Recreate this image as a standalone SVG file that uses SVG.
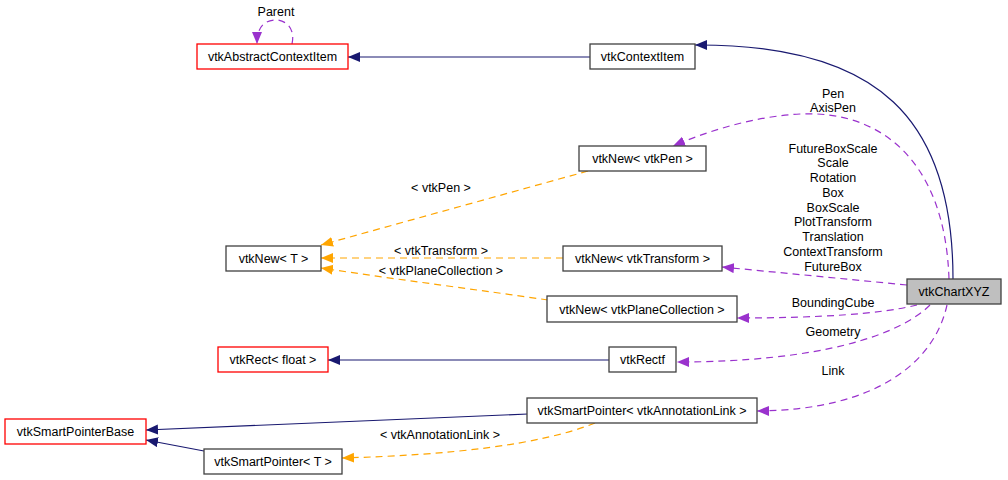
<svg xmlns="http://www.w3.org/2000/svg" width="1008" height="480" viewBox="0 0 1008 480">
<style>
text{font-family:"Liberation Sans",Arial,sans-serif;font-size:12.5px;fill:#000;text-anchor:middle}
.n rect{fill:#fff;stroke:#404040;stroke-width:1.3}
.r rect{fill:#fff;stroke:#ff0000;stroke-width:1.3}
.g rect{fill:#bfbfbf;stroke:#404040;stroke-width:1.3}
.nv{fill:none;stroke:#191970;stroke-width:1.2;marker-end:url(#an)}
.pu{fill:none;stroke:#9a32cd;stroke-width:1.2;stroke-dasharray:7,5;marker-end:url(#ap)}
.or{fill:none;stroke:#ffa500;stroke-width:1.2;stroke-dasharray:7,5;marker-end:url(#ao)}
</style>
<defs>
<marker id="an" markerUnits="userSpaceOnUse" markerWidth="13" markerHeight="11" refX="12" refY="5" orient="auto"><path d="M0,0 L12,5 L0,10 z" fill="#191970"/></marker>
<marker id="ap" markerUnits="userSpaceOnUse" markerWidth="13" markerHeight="11" refX="12" refY="5" orient="auto"><path d="M0,0 L12,5 L0,10 z" fill="#9a32cd"/></marker>
<marker id="ao" markerUnits="userSpaceOnUse" markerWidth="13" markerHeight="11" refX="12" refY="5" orient="auto"><path d="M0,0 L12,5 L0,10 z" fill="#ffa500"/></marker>
</defs>
<rect width="1008" height="480" fill="#fff"/>
<g id="connectors">
<path class="pu" d="M292,44 C296,26 283,19 274,20 C264,21 257,27 257,44"/>
<path class="nv" d="M590,57 L348,57"/>
<path class="nv" d="M953,279 C953,120 880,44 695,45"/>
<path class="pu" d="M949,279 C945,160 880,110 800,114 C760,116 715,128 673,146"/>
<path class="pu" d="M907,285 L722,267"/>
<path class="pu" d="M917,305 C880,314 820,318 737,318"/>
<path class="pu" d="M930,305 C900,335 820,362 677,362"/>
<path class="pu" d="M947,305 C935,360 880,410 757,411"/>
<path class="or" d="M588,171 L321,245"/>
<path class="or" d="M563,258 L321,258"/>
<path class="or" d="M548,300 C480,290 400,280 321,268"/>
<path class="nv" d="M609,360 L328,360"/>
<path class="nv" d="M528,414 L146,430"/>
<path class="nv" d="M204,451 L146,440"/>
<path class="or" d="M595,423 C540,445 450,455 342,458"/>
<text x="276" y="16">Parent</text>
<text x="833" y="98">Pen</text>
<text x="833" y="112">AxisPen</text>
<text x="833" y="152.5">FutureBoxScale</text>
<text x="833" y="167.25">Scale</text>
<text x="833" y="182">Rotation</text>
<text x="833" y="196.75">Box</text>
<text x="833" y="211.5">BoxScale</text>
<text x="833" y="226.25">PlotTransform</text>
<text x="833" y="241">Translation</text>
<text x="833" y="255.75">ContextTransform</text>
<text x="833" y="270.5">FutureBox</text>
<text x="833" y="307">BoundingCube</text>
<text x="833" y="336">Geometry</text>
<text x="833" y="375">Link</text>
<text x="441" y="192">&lt; vtkPen &gt;</text>
<text x="441" y="255">&lt; vtkTransform &gt;</text>
<text x="441" y="275">&lt; vtkPlaneCollection &gt;</text>
<text x="440" y="439">&lt; vtkAnnotationLink &gt;</text>
</g>
<g id="vtkAbstractContextItem" class="r"><rect x="197" y="44" width="151" height="25"/><text x="272.5" y="61">vtkAbstractContextItem</text></g>
<g id="vtkContextItem" class="n"><rect x="590" y="44" width="105" height="25"/><text x="642.5" y="61">vtkContextItem</text></g>
<g id="vtkNewPen" class="n"><rect x="579" y="146" width="127" height="25"/><text x="642.5" y="163">vtkNew&lt; vtkPen &gt;</text></g>
<g id="vtkNewT" class="n"><rect x="226" y="246" width="95" height="25"/><text x="273.5" y="263">vtkNew&lt; T &gt;</text></g>
<g id="vtkNewTransform" class="n"><rect x="563" y="246" width="159" height="25"/><text x="642.5" y="263">vtkNew&lt; vtkTransform &gt;</text></g>
<g id="vtkChartXYZ" class="g"><rect x="907" y="279" width="94" height="25"/><text x="954" y="296">vtkChartXYZ</text></g>
<g id="vtkNewPlaneCollection" class="n"><rect x="547" y="296" width="190" height="26"/><text x="642" y="313.5">vtkNew&lt; vtkPlaneCollection &gt;</text></g>
<g id="vtkRectFloat" class="r"><rect x="218" y="347" width="110" height="25"/><text x="273" y="364">vtkRect&lt; float &gt;</text></g>
<g id="vtkRectf" class="n"><rect x="609" y="347" width="67" height="25"/><text x="642.5" y="364">vtkRectf</text></g>
<g id="vtkSmartPointerBase" class="r"><rect x="5" y="419" width="141" height="25"/><text x="75.5" y="436">vtkSmartPointerBase</text></g>
<g id="vtkSmartPointerAnnotationLink" class="n"><rect x="527" y="398" width="230" height="25"/><text x="642" y="415">vtkSmartPointer&lt; vtkAnnotationLink &gt;</text></g>
<g id="vtkSmartPointerT" class="n"><rect x="204" y="449" width="138" height="25"/><text x="273" y="466">vtkSmartPointer&lt; T &gt;</text></g>
</svg>
